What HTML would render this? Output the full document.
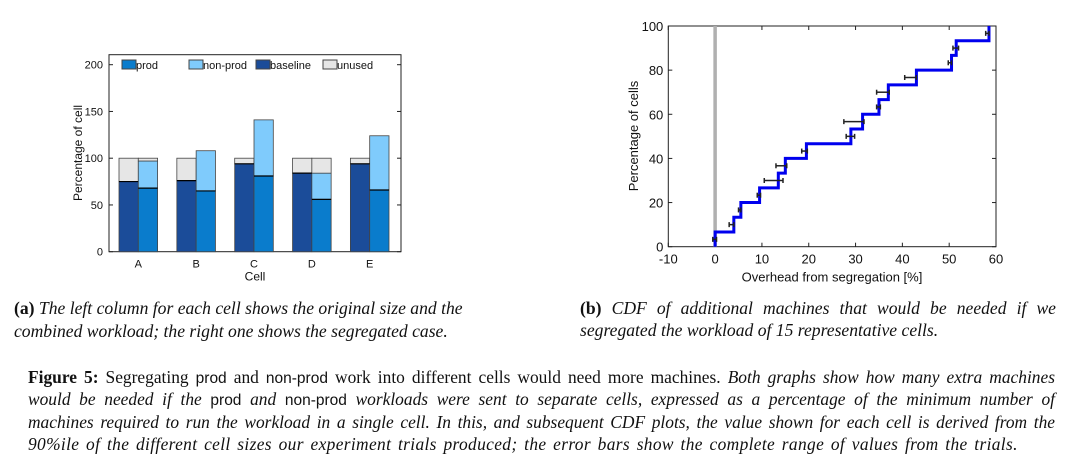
<!DOCTYPE html>
<html><head><meta charset="utf-8"><style>
body{margin:0;background:#fff;width:1070px;height:469px;overflow:hidden;position:relative;font-family:"Liberation Serif",serif}
.cap{position:absolute;font-size:17.6px;line-height:23px;color:#111}
.fig{position:absolute;left:28px;width:1027px;top:366px;font-size:17.4px;line-height:22.3px;color:#111}
.ln{display:block;height:22.3px;white-space:nowrap;text-align:justify;text-align-last:justify}
.last{text-align-last:left;letter-spacing:0.35px;word-spacing:2px}
.sf{font-family:"Liberation Sans",sans-serif;font-style:normal;font-size:15.5px;line-height:0}
svg text{font-family:"Liberation Sans",sans-serif;fill:#111}
</style></head><body>
<svg width="1070" height="300" style="position:absolute;left:0;top:0">
<g id="left"></g>
<g id="right"></g>
</svg>
<div class="cap" style="left:14px;top:297px"><b>(a)</b> <i>The left column for each cell shows the original size and the<br>combined workload; the right one shows the segregated case.</i></div>
<div class="cap" style="left:580px;top:297px;width:476px"><span class="ln"><b>(b)</b> <i>CDF of additional machines that would be needed if we</i></span><span class="ln last" style="letter-spacing:0;word-spacing:0"><i>segregated the workload of 15 representative cells.</i></span></div>
<div class="fig">
<span class="ln"><b>Figure 5:</b> Segregating <span class="sf">prod</span> and <span class="sf">non-prod</span> work into different cells would need more machines. <i>Both graphs show how many extra machines</i></span>
<span class="ln"><i>would be needed if the <span class="sf">prod</span> and <span class="sf">non-prod</span> workloads were sent to separate cells, expressed as a percentage of the minimum number of</i></span>
<span class="ln"><i>machines required to run the workload in a single cell. In this, and subsequent CDF plots, the value shown for each cell is derived from the</i></span>
<span class="ln last"><i>90%ile of the different cell sizes our experiment trials produced; the error bars show the complete range of values from the trials.</i></span>
</div>
<script>
const cells=["A","B","C","D","E"];
const baseline=[75,76,94,84,94];
const prodVals=[68,65,81,56,66];
const prodPlusNon=[97,108,141,84,124];
const yTicksL=[0,50,100,150,200];
const cdfX=[0,4,5.5,9.5,13.5,15,19.5,29,31.5,35,37,43,50.5,51.5,58.5];
const errLo=[-0.5,3,5,9,10.5,13,18.5,28,27.5,34.5,34.5,40.5,49.8,50.8,57.8];
const errHi=[0.3,4,5.5,9.7,14.5,15.3,19.7,29.8,31.8,35.3,37.2,43,50.5,52,58.5];
const xTicksR=[-10,0,10,20,30,40,50,60];
const yTicksR=[0,20,40,60,80,100];
const NS="http://www.w3.org/2000/svg";
function mk(p,t,a,txt){const e=document.createElementNS(NS,t);for(const k in a)e.setAttribute(k,a[k]);if(txt!==undefined)e.textContent=txt;p.appendChild(e);return e;}
const L=document.getElementById('left');
const lx0=109,lx1=401,ly0=251.7,ly1=54.7;
const ly=v=>ly0-(v/200)*187;
const gx=i=>138.3+i*57.85;
const bw=19.3;
mk(L,'rect',{x:lx0,y:ly1,width:lx1-lx0,height:ly0-ly1,fill:'#fff',stroke:'#222','stroke-width':1});
yTicksL.forEach(t=>{const e=mk(L,'text',{x:lx0-6,y:ly(t)+4,'text-anchor':'end','font-size':11},t);
mk(L,'line',{x1:lx0,x2:lx0+4,y1:ly(t),y2:ly(t),stroke:'#222'});mk(L,'line',{x1:lx1,x2:lx1-4,y1:ly(t),y2:ly(t),stroke:'#222'});});
function bar(x,v0,v1,fill,name){const r=mk(L,'rect',{x:x,y:ly(v1),width:bw,height:ly(v0)-ly(v1),fill:fill,stroke:'#444','stroke-width':0.8});}
cells.forEach((c,i)=>{const xl=gx(i)-bw,xr=gx(i);
bar(xl,0,baseline[i],'#1b4c99','bar-baseline-'+c);
bar(xl,baseline[i],100,'#e6e6e6','bar-unused-left-'+c);
bar(xr,0,prodVals[i],'#0a7ccc','bar-prod-'+c);
bar(xr,prodVals[i],prodPlusNon[i],'#7fcbfc','bar-nonprod-'+c);
if(prodPlusNon[i]<100)bar(xr,prodPlusNon[i],100,'#e6e6e6','bar-unused-right-'+c);
mk(L,'line',{x1:xl,x2:xl+bw,y1:ly(baseline[i]),y2:ly(baseline[i]),stroke:'#000','stroke-width':1.2});
mk(L,'line',{x1:xr,x2:xr+bw,y1:ly(prodVals[i]),y2:ly(prodVals[i]),stroke:'#000','stroke-width':1.2});
const t=mk(L,'text',{x:gx(i),y:ly0+16,'text-anchor':'middle','font-size':11},c);});
mk(L,'text',{x:255,y:ly0+29,'text-anchor':'middle','font-size':12},'Cell');
mk(L,'text',{x:0,y:0,transform:'translate(82,153) rotate(-90)','text-anchor':'middle','font-size':12},'Percentage of cell');
[['prod','#0a7ccc',122],['non-prod','#7fcbfc',189],['baseline','#1b4c99',256],['unused','#e6e6e6',323]].forEach(([n,c,x])=>{
const g=mk(L,'g',{});
mk(g,'rect',{x:x,y:60,width:14,height:9,fill:c,stroke:'#444'});mk(g,'text',{x:x+14,y:69,'font-size':11},n);});
const R=document.getElementById('right');
const rx0=668.3,rx1=996,ry0=246.7,ry1=26;
const rx=v=>rx0+(v+10)/70*(rx1-rx0);
const ry=v=>ry0-v/100*(ry0-ry1);
mk(R,'rect',{x:rx0,y:ry1,width:rx1-rx0,height:ry0-ry1,fill:'#fff',stroke:'#222'});
xTicksR.forEach(t=>{mk(R,'line',{x1:rx(t),x2:rx(t),y1:ry0,y2:ry0-4,stroke:'#222'});mk(R,'line',{x1:rx(t),x2:rx(t),y1:ry1,y2:ry1+4,stroke:'#222'});
const e=mk(R,'text',{x:rx(t),y:ry0+17,'text-anchor':'middle','font-size':13},t);});
yTicksR.forEach(t=>{mk(R,'line',{x1:rx0,x2:rx0+4,y1:ry(t),y2:ry(t),stroke:'#222'});mk(R,'line',{x1:rx1,x2:rx1-4,y1:ry(t),y2:ry(t),stroke:'#222'});
const e=mk(R,'text',{x:rx0-5,y:ry(t)+5,'text-anchor':'end','font-size':13},t);});
mk(R,'line',{x1:rx(0),x2:rx(0),y1:ry1,y2:ry0,stroke:'#b0b0b0','stroke-width':3.5});
let d='M'+rx(cdfX[0])+','+ry(0);const n=cdfX.length;
cdfX.forEach((x,i)=>{d+=' L'+rx(x)+','+ry(i*100/n)+' L'+rx(x)+','+ry((i+1)*100/n);if(i<n-1)d+=' L'+rx(cdfX[i+1])+','+ry((i+1)*100/n);});
const p=mk(R,'path',{d:d,fill:'none',stroke:'#0000ee','stroke-width':3});
errLo.forEach((lo,i)=>{const y=ry((i+0.5)*100/n);const g=mk(R,'g',{stroke:'#222','stroke-width':1.5});
mk(g,'line',{x1:rx(lo),x2:rx(errHi[i]),y1:y,y2:y});mk(g,'line',{x1:rx(lo),x2:rx(lo),y1:y-2.5,y2:y+2.5});mk(g,'line',{x1:rx(errHi[i]),x2:rx(errHi[i]),y1:y-2.5,y2:y+2.5});});
mk(R,'text',{x:832,y:ry0+35,'text-anchor':'middle','font-size':13},'Overhead from segregation [%]');
mk(R,'text',{x:0,y:0,transform:'translate(638,136) rotate(-90)','text-anchor':'middle','font-size':13},'Percentage of cells');
</script>
</body></html>
